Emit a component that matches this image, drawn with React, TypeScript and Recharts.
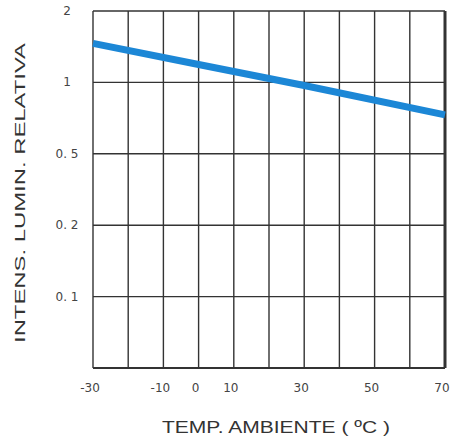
import React from "react";
import { LineChart, Line, XAxis, YAxis, CartesianGrid, ReferenceLine } from "recharts";

// Temperatures (ºC) and relative luminous intensity
const temps = [-30, 0, 30, 70];
const intensity = [1.46, 1.19, 0.97, 0.73];

// Axis ticks
const xTicks = [-30, -20, -10, 0, 10, 20, 30, 40, 50, 60, 70];
const xTickLabels: Record<string, string> = { "-30": "-30", "-10": "-10", "0": "0", "10": "10", "30": "30", "50": "50", "70": "70" };
const yLevels = [0.05, 0.1, 0.2, 0.5, 1, 2];
const yTickLabels = ["", "0. 1", "0. 2", "0. 5", "1", "2"];

// evenly spaced grid levels, logarithmic between neighbours
function toPos(v: number): number {
  for (let i = 0; i < yLevels.length - 1; i++) {
    const a = yLevels[i];
    const b = yLevels[i + 1];
    if (v <= b || i === yLevels.length - 2) {
      return i + Math.log(v / a) / Math.log(b / a);
    }
  }
  return 0;
}

const data = temps.map((t, i) => ({ t, pos: toPos(intensity[i]), value: intensity[i] }));

const YTick = (props: any) => {
  const { y, payload } = props;
  const label = yTickLabels[payload.value] ?? "";
  return (
    <text x={67} y={y} dy={4} textAnchor="middle" fontFamily="DejaVu Sans" fontSize={12} fill="#444">
      {label}
    </text>
  );
};

const XTick = (props: any) => {
  const { x, y, payload } = props;
  const label = xTickLabels[String(payload.value)] ?? "";
  return (
    <text x={x - 3} y={y} dy={16} textAnchor="middle" fontFamily="DejaVu Sans" fontSize={12} fill="#444">
      {label}
    </text>
  );
};

export default function App() {
  return (
    <div style={{ position: "absolute", left: 0, top: 0, width: 452, height: 446, background: "#fff" }}>
      <LineChart width={452} height={446} data={data} margin={{ top: 11, right: 7, left: 0, bottom: 0 }}>
        <CartesianGrid stroke="#333" strokeWidth={1.4} horizontalValues={[0, 1, 2, 3, 4, 5]} verticalValues={xTicks} />
        <XAxis
          dataKey="t"
          type="number"
          domain={[-30, 70]}
          ticks={xTicks}
          height={78}
          axisLine={false}
          tickLine={false}
          tick={<XTick />}
          interval={0}
        />
        <YAxis
          type="number"
          domain={[0, 5]}
          ticks={[0, 1, 2, 3, 4, 5]}
          width={93}
          axisLine={false}
          tickLine={false}
          tick={<YTick />}
          interval={0}
        />
        <ReferenceLine x={70} stroke="#333" strokeWidth={3} />
        <ReferenceLine y={0} stroke="#333" strokeWidth={2} />
        <Line
          dataKey="pos"
          stroke="#1c87d6"
          strokeWidth={7}
          strokeLinecap="butt"
          dot={false}
          activeDot={false}
          isAnimationActive={false}
          type="linear"
        />
        <text
          x={0}
          y={0}
          transform="translate(25,193) rotate(-90)"
          textAnchor="middle"
          fontFamily="Liberation Sans"
          fontSize={15}
          fill="#333"
          textLength={300}
          lengthAdjust="spacingAndGlyphs"
        >
          INTENS. LUMIN. RELATIVA
        </text>
        <text
          x={276}
          y={433}
          textAnchor="middle"
          fontFamily="Liberation Sans"
          fontSize={17}
          fill="#333"
          textLength={228}
          lengthAdjust="spacingAndGlyphs"
        >
          TEMP. AMBIENTE ( ºC )
        </text>
      </LineChart>
    </div>
  );
}
